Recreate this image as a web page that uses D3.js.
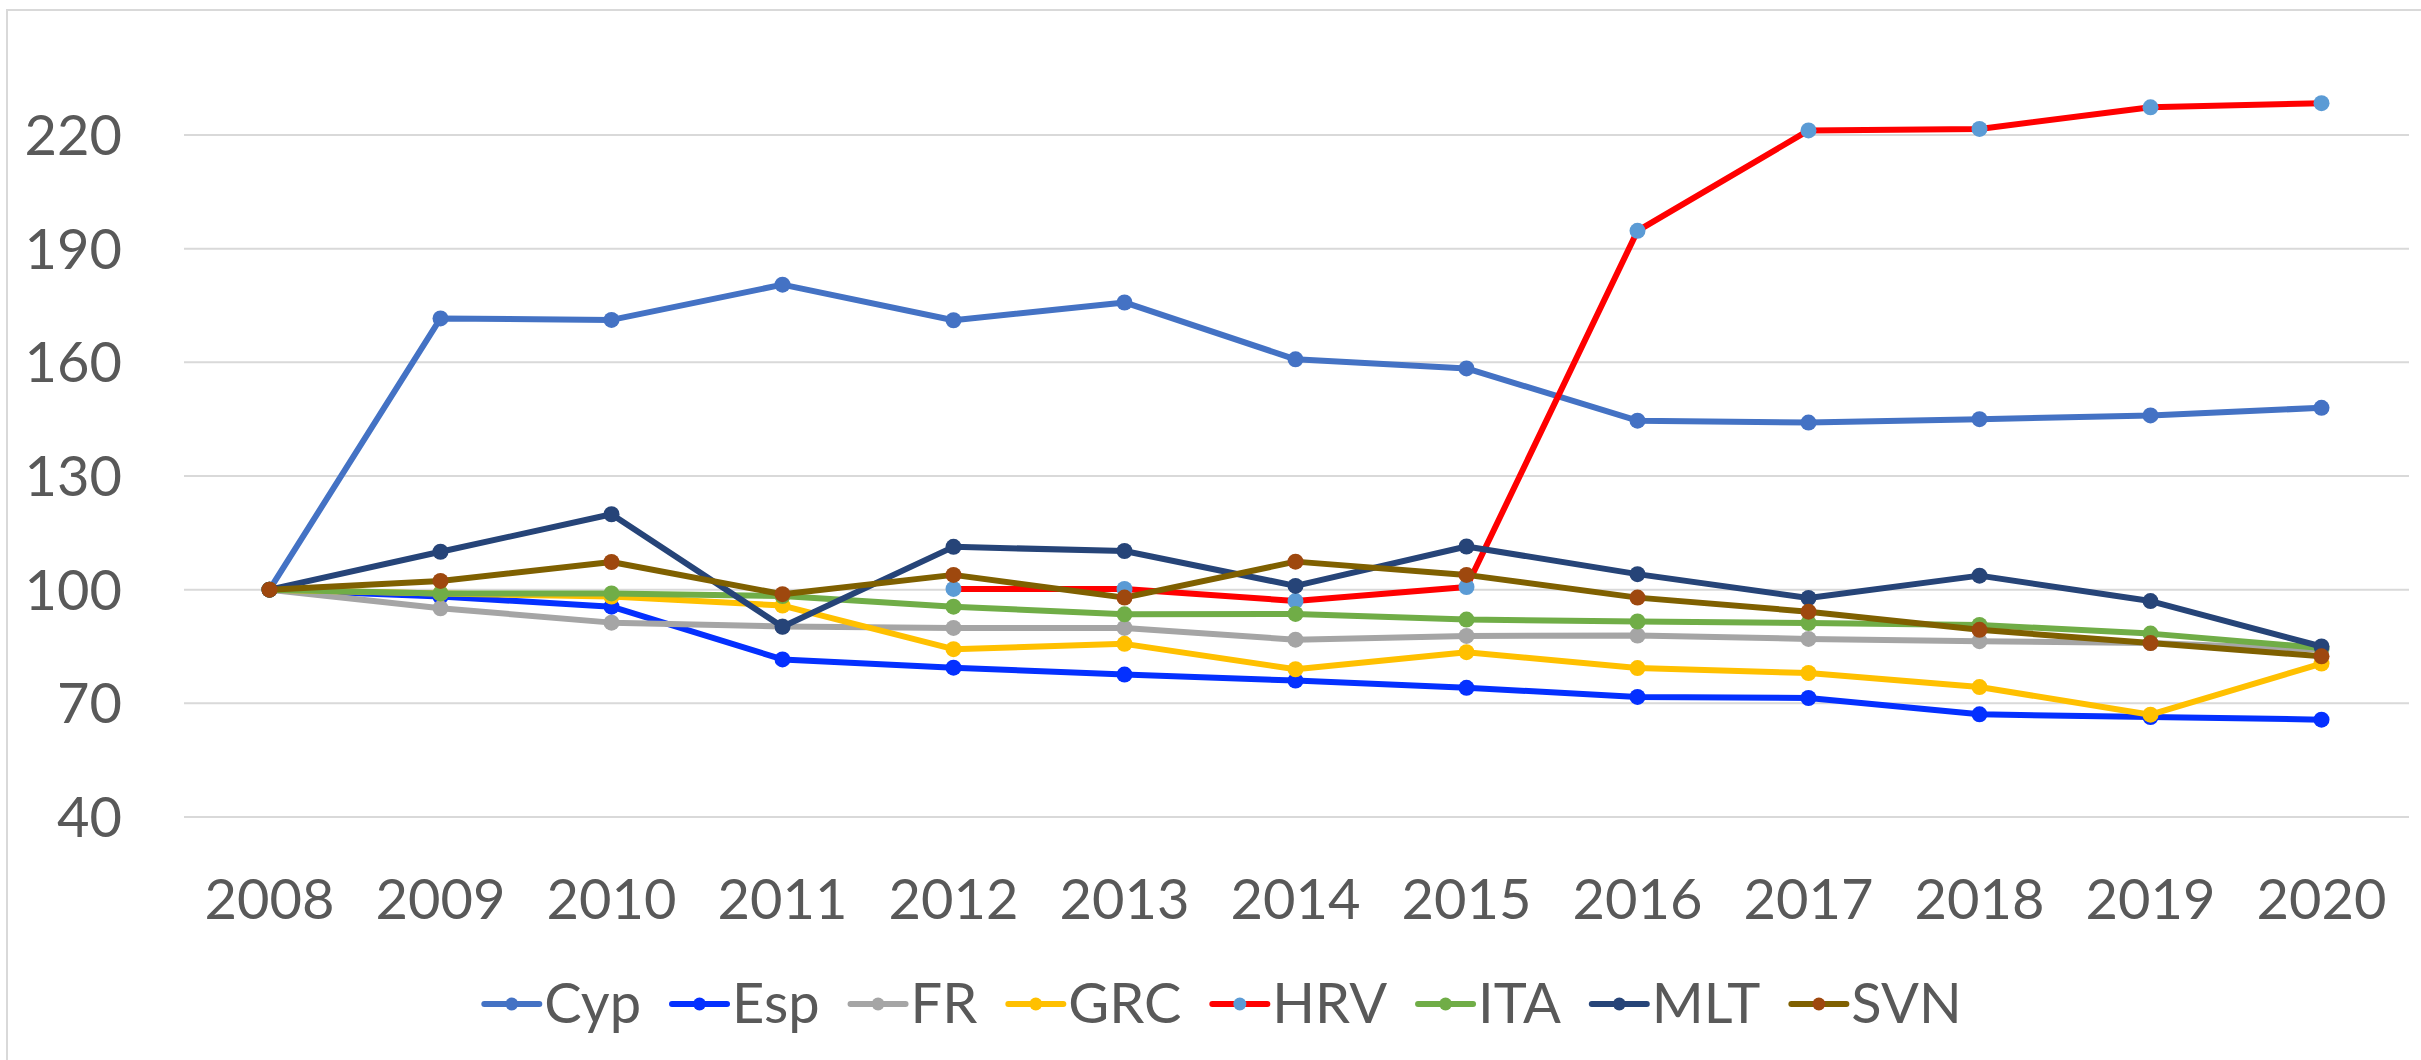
<!DOCTYPE html>
<html>
<head>
<meta charset="utf-8">
<script src="https://cdn.jsdelivr.net/npm/d3@7"></script>
<style>
  body { margin: 0; background: #fff; }
  svg text { font-family: Lato, "Open Sans", sans-serif; fill: #595959; }
</style>
</head>
<body>
<svg id="chart"></svg>
<script>
let years = ["2008","2009","2010","2011","2012","2013","2014","2015","2016","2017","2018","2019","2020"];
let yTicks = [40, 70, 100, 130, 160, 190, 220];

let cyp = [100, 171.6, 171.2, 180.5, 171.1, 175.8, 160.8, 158.4, 144.6, 144.1, 145.0, 146.0, 148.0];
let esp = [100, 98.2, 95.5, 81.6, 79.4, 77.6, 76.0, 74.1, 71.7, 71.4, 67.1, 66.4, 65.7];
let fr  = [100, 95.1, 91.3, 90.3, 89.9, 89.9, 86.8, 87.8, 87.9, 87.0, 86.4, 85.9, 84.2];
let grc = [100, 99.0, 98.2, 95.8, 84.3, 85.7, 79.0, 83.5, 79.3, 78.0, 74.3, 67.0, 80.5];
let hrv = [null, null, null, null, 100.2, 100.2, 97.0, 100.7, 194.7, 221.2, 221.6, 227.3, 228.4];
let ita = [100, 99.0, 99.0, 98.3, 95.5, 93.5, 93.6, 92.1, 91.6, 91.2, 90.7, 88.4, 84.6];
let mlt = [100, 110.0, 119.9, 90.2, 111.3, 110.2, 101.0, 111.4, 104.1, 97.8, 103.7, 97.0, 85.0];
let svn = [100, 102.3, 107.3, 98.8, 103.9, 97.9, 107.4, 103.9, 97.9, 94.2, 89.4, 85.9, 82.4];

let seriesNames = ["Cyp", "Esp", "FR", "GRC", "HRV", "ITA", "MLT", "SVN"];
let seriesValues = [cyp, esp, fr, grc, hrv, ita, mlt, svn];
let lineColors = ["#4472C4", "#0430FF", "#A5A5A5", "#FFC000", "#FF0000", "#70AD47", "#264478", "#7F6000"];
let markerColors = ["#4472C4", "#0430FF", "#A5A5A5", "#FFC000", "#5B9BD5", "#70AD47", "#264478", "#9E480E"];

let W = 2421, H = 1060;
let plot = {left: 184, right: 2407, top: 59, bottom: 817};

let svg = d3.select("#chart").attr("width", W).attr("height", H);

// chart border (runs off the right and bottom edge)
svg.append("rect")
  .attr("x", 7).attr("y", 10)
  .attr("width", W + 20).attr("height", H + 20)
  .attr("fill", "none").attr("stroke", "#D9D9D9").attr("stroke-width", 2);

let x = d3.scaleBand().domain(years).range([plot.left, plot.right]);
let y = d3.scaleLinear().domain([40, 220]).range([817, 135]);
let cx = function(d) { return x(d) + x.bandwidth() / 2; };

// gridlines
svg.append("g").selectAll("line")
  .data(yTicks).join("line")
    .attr("x1", plot.left).attr("x2", plot.right + 2)
    .attr("y1", d => y(d)).attr("y2", d => y(d))
    .attr("stroke", "#D9D9D9").attr("stroke-width", 2);

// y labels
svg.append("g").selectAll("text")
  .data(yTicks).join("text")
    .attr("x", 122).attr("y", d => y(d) + 20)
    .attr("text-anchor", "end")
    .style("font-size", "56px")
    .text(d => d);

// x labels
svg.append("g").selectAll("text")
  .data(years).join("text")
    .attr("x", d => cx(d)).attr("y", 919)
    .attr("text-anchor", "middle")
    .style("font-size", "56px")
    .text(d => d);

// series
let line = d3.line()
  .defined(d => d.v !== null)
  .x(d => cx(d.year))
  .y(d => y(d.v));

seriesNames.forEach(function(name, i) {
  let pts = seriesValues[i].map((v, j) => ({year: years[j], v: v}));
  let g = svg.append("g").attr("class", "series-" + name);
  g.append("path")
    .datum(pts)
    .attr("fill", "none")
    .attr("stroke", lineColors[i])
    .attr("stroke-width", 6)
    .attr("stroke-linejoin", "round")
    .attr("d", line);
  g.selectAll("circle")
    .data(pts.filter(d => d.v !== null)).join("circle")
      .attr("cx", d => cx(d.year))
      .attr("cy", d => y(d.v))
      .attr("r", 8)
      .attr("fill", markerColors[i]);
});

// legend
let legend = svg.append("g");
let items = legend.selectAll("g").data(seriesNames).join("g");
items.append("line")
  .attr("x1", 0).attr("x2", 55).attr("y1", 1004).attr("y2", 1004)
  .attr("stroke", (d, i) => lineColors[i]).attr("stroke-width", 6)
  .attr("stroke-linecap", "round");
items.append("circle")
  .attr("cx", 27.5).attr("cy", 1004).attr("r", 6.5)
  .attr("fill", (d, i) => markerColors[i]);
items.append("text")
  .attr("x", 60).attr("y", 1023)
  .style("font-size", "56px")
  .text(d => d);

let gap = 31, pos = 0, offsets = [];
items.each(function() {
  offsets.push(pos);
  let w = d3.select(this).select("text").node().getComputedTextLength();
  pos += 60 + w + gap;
});
let total = pos - gap;
let start = 1223 - total / 2;
items.attr("transform", (d, i) => "translate(" + (start + offsets[i]) + ",0)");
</script>
</body>
</html>
